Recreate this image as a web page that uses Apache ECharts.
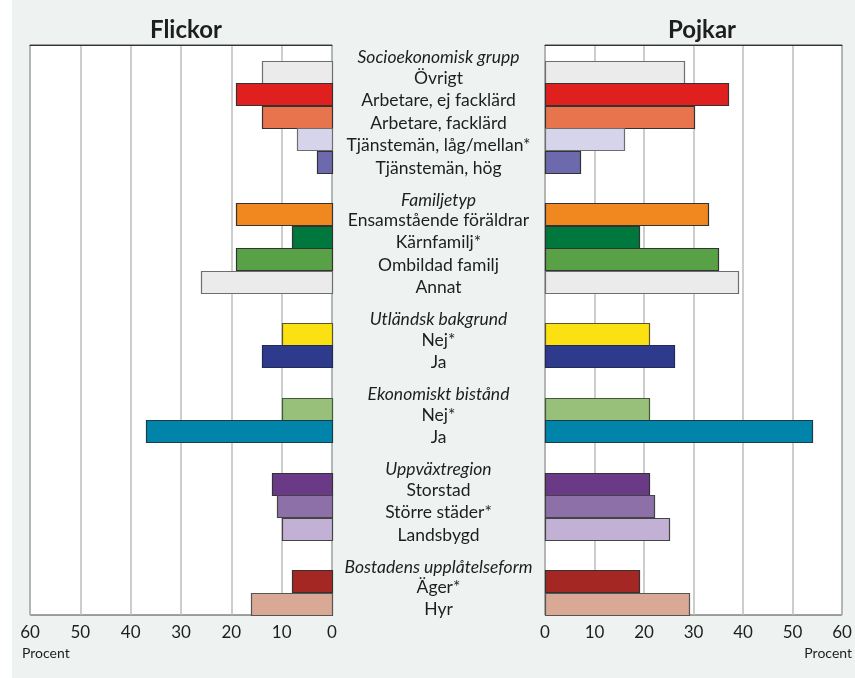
<!DOCTYPE html>
<html>
<head>
<meta charset="utf-8">
<script src="https://cdn.jsdelivr.net/npm/echarts@6/dist/echarts.min.js"></script>
<style>
  html, body { margin: 0; padding: 0; background: #ffffff; }
  #chart {
    width: 855px; height: 678px;
    background: linear-gradient(to right, #ffffff 12px, #eef3f1 12px);
  }
</style>
</head>
<body>
<div id="chart"></div>
<script>
// Group headings and how many categories belong to each group
const groupTitles = [
  'Socioekonomisk grupp', 'Familjetyp', 'Utländsk bakgrund',
  'Ekonomiskt bistånd', 'Uppväxtregion', 'Bostadens upplåtelseform'
];
const groupSizes = [5, 4, 2, 2, 3, 2];

// Categories, top to bottom
const categories = [
  'Övrigt', 'Arbetare, ej facklärd', 'Arbetare, facklärd', 'Tjänstemän, låg/mellan*', 'Tjänstemän, hög',
  'Ensamstående föräldrar', 'Kärnfamilj*', 'Ombildad familj', 'Annat',
  'Nej*', 'Ja',
  'Nej*', 'Ja',
  'Storstad', 'Större städer*', 'Landsbygd',
  'Äger*', 'Hyr'
];

// Percent per category
const flickor = [14, 19, 14, 7, 3, 19, 8, 19, 26, 10, 14, 10, 37, 12, 11, 10, 8, 16];
const pojkar  = [28, 37, 30, 16, 7, 33, 19, 35, 39, 21, 26, 21, 54, 21, 22, 25, 19, 29];

// Axis ticks
const xTicks = [0, 10, 20, 30, 40, 50, 60];

// Bar fills and outlines
const fills = [
  '#ebebeb', '#e0201f', '#e8744e', '#d5d4ea', '#6c6aad',
  '#f0881f', '#00773c', '#58a147', '#ebebeb',
  '#fbe111', '#2e3a8c',
  '#98c07a', '#0084a9',
  '#6b3a87', '#8e70a9', '#c3b1d5',
  '#a52723', '#d9a995'
];
const strokes = [
  '#6e6e6e', '#333333', '#333333', '#6e6e6e', '#333333',
  '#333333', '#333333', '#333333', '#6e6e6e',
  '#5a5530', '#222a55',
  '#445a3a', '#1f3a48',
  '#333333', '#444444', '#444444',
  '#333333', '#555555'
];

// Vertical layout in row units: each category is one row, a group heading adds a gap
const FIRST_GAP = 0.7;
const GROUP_GAP = 1.33;
const rowPos = [];
const headPos = [];
let cursor = 0;
groupSizes.forEach((n, g) => {
  cursor += g === 0 ? FIRST_GAP : GROUP_GAP;
  headPos.push(cursor + 0.5);          // first category row of the group
  for (let i = 0; i < n; i++) {
    rowPos.push(cursor + 0.5);
    cursor += 1;
  }
});
const totalRows = cursor;

const FONT = 'Lato, "Open Sans", sans-serif';
const TXT = '#1e1e1e';

const chart = echarts.init(document.getElementById('chart'), null, { renderer: 'canvas' });

function barRender(params, api) {
  const val = api.value(0);
  const row = api.value(1);
  const idx = api.value(2);
  const a = api.coord([0, row]);
  const b = api.coord([val, row]);
  const h = api.size([0, 1])[1];
  return {
    type: 'rect',
    shape: {
      x: Math.round(Math.min(a[0], b[0])) + 0.5,
      y: Math.round(a[1] - h / 2) + 0.5,
      width: Math.round(Math.abs(b[0] - a[0])),
      height: Math.round(h)
    },
    style: { fill: fills[idx], stroke: strokes[idx], lineWidth: 1.2 }
  };
}

function labelRender(params, api) {
  const row = api.value(1);
  const kind = api.value(3);
  const text = kind === 1 ? groupTitles[api.value(2)] : categories[api.value(2)];
  const p = api.coord([0.5, row]);
  const h = api.size([0, 1])[1];
  const y = kind === 1 ? p[1] - h * 0.95 + 7 : p[1] + 6;
  return {
    type: 'text',
    x: p[0],
    y: y,
    style: {
      text: text,
      fill: TXT,
      font: (kind === 1 ? 'italic ' : '') + '17.5px ' + FONT,
      align: 'center',
      verticalAlign: 'middle'
    }
  };
}

const yBase = { type: 'value', inverse: true, min: 0, max: totalRows, show: false };
const xCommon = {
  type: 'value', min: 0, max: 60, interval: 10,
  axisLine: { show: true, lineStyle: { color: '#333', width: 1 } },
  axisTick: { show: false },
  axisLabel: { color: TXT, fontFamily: FONT, fontSize: 17, margin: 9 },
  splitLine: { show: true, lineStyle: { color: '#bcbcbc', width: 1.5 } }
};

const girlData = flickor.map((v, i) => [v, rowPos[i], i]);
const boyData = pojkar.map((v, i) => [v, rowPos[i], i]);
const labelData = categories.map((c, i) => [0.5, rowPos[i], i, 0])
  .concat(groupTitles.map((t, g) => [0.5, headPos[g], g, 1]));

chart.setOption({
  animation: false,
  textStyle: { fontFamily: FONT },
  title: [
    { text: 'Flickor', left: 181, top: 13, textAlign: 'center',
      textStyle: { fontFamily: FONT, fontSize: 24, fontWeight: 'bold', color: TXT } },
    { text: 'Pojkar', left: 697, top: 13, textAlign: 'center',
      textStyle: { fontFamily: FONT, fontSize: 24, fontWeight: 'bold', color: TXT } }
  ],
  grid: [
    { left: 30, top: 45, width: 302, height: 570, show: true,
      backgroundColor: '#ffffff', borderColor: '#444', borderWidth: 1 },
    { left: 545, top: 45, width: 297, height: 570, show: true,
      backgroundColor: '#ffffff', borderColor: '#444', borderWidth: 1 },
    { left: 332, top: 45, width: 213, height: 570, show: false }
  ],
  xAxis: [
    Object.assign({}, xCommon, { gridIndex: 0, inverse: true }),
    Object.assign({}, xCommon, { gridIndex: 1 }),
    { type: 'value', gridIndex: 2, min: 0, max: 1, show: false }
  ],
  yAxis: [
    Object.assign({}, yBase, { gridIndex: 0 }),
    Object.assign({}, yBase, { gridIndex: 1 }),
    Object.assign({}, yBase, { gridIndex: 2 })
  ],
  graphic: [
    { type: 'text', left: 22, top: 646,
      style: { text: 'Procent', font: '14px ' + FONT, fill: TXT } },
    { type: 'text', right: 3, top: 646,
      style: { text: 'Procent', font: '14px ' + FONT, fill: TXT } }
  ],
  series: [
    { type: 'custom', name: 'Flickor', xAxisIndex: 0, yAxisIndex: 0,
      renderItem: barRender, data: girlData, encode: { x: 0, y: 1 }, clip: false },
    { type: 'custom', name: 'Pojkar', xAxisIndex: 1, yAxisIndex: 1,
      renderItem: barRender, data: boyData, encode: { x: 0, y: 1 }, clip: false },
    { type: 'custom', name: 'Etiketter', xAxisIndex: 2, yAxisIndex: 2,
      renderItem: labelRender, data: labelData, encode: { x: 0, y: 1 }, clip: false, silent: true }
  ]
});
</script>
</body>
</html>
